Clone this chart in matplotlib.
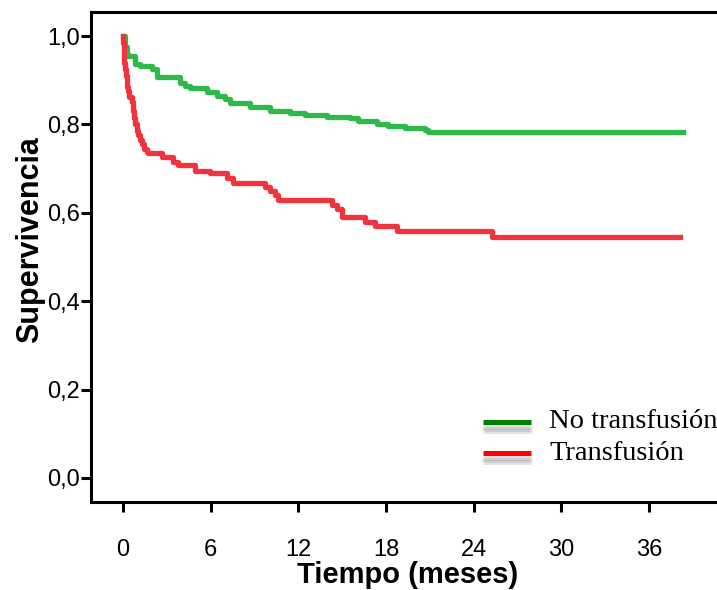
import matplotlib
matplotlib.use("Agg")
import matplotlib.pyplot as plt
import matplotlib.patheffects as pe
from matplotlib.lines import Line2D

# Kaplan-Meier estimates (time in months, survival)
t_no = [0, 0.14, 0.27, 0.34, 0.82, 1.16, 1.98, 2.33, 3.9, 4.24, 4.59, 5.75,
        6.43, 6.98, 7.32, 8.69, 10.06, 11.43, 12.46, 13.96, 15.54, 16.08,
        17.39, 18.14, 19.3, 20.67, 20.88, 38.33]
s_no = [1.0, 0.975, 0.96, 0.955, 0.937, 0.932, 0.925, 0.907, 0.893, 0.887,
        0.882, 0.873, 0.864, 0.857, 0.848, 0.840, 0.830, 0.826, 0.821, 0.817,
        0.814, 0.808, 0.801, 0.796, 0.792, 0.787, 0.783, 0.783]

t_tr = [0, 0.02, 0.04, 0.07, 0.10, 0.14, 0.21, 0.24, 0.27, 0.34, 0.41, 0.62,
        0.68, 0.75, 0.82, 0.96, 1.03, 1.16, 1.30, 1.44, 1.64, 1.71, 2.67,
        3.42, 3.76, 4.93, 5.95, 7.12, 7.53, 9.72, 10.06, 10.40, 10.61, 14.31,
        14.65, 14.99, 16.56, 17.25, 18.75, 25.26, 38.12]
s_tr = [1.0, 0.985, 0.97, 0.955, 0.94, 0.925, 0.91, 0.895, 0.885, 0.875,
        0.862, 0.85, 0.83, 0.815, 0.80, 0.785, 0.775, 0.765, 0.755, 0.745,
        0.738, 0.735, 0.726, 0.715, 0.708, 0.695, 0.69, 0.679, 0.667, 0.658,
        0.65, 0.64, 0.629, 0.618, 0.609, 0.59, 0.579, 0.57, 0.559, 0.545,
        0.545]

groups = ["No transfusión", "Transfusión"]
x_ticks = [0, 6, 12, 18, 24, 30, 36]
y_ticks = [0.0, 0.2, 0.4, 0.6, 0.8, 1.0]
y_ticklabels = ["0,0", "0,2", "0,4", "0,6", "0,8", "1,0"]

plt.rcParams["font.family"] = ["Liberation Sans", "DejaVu Sans"]

W, H = 717, 590
fig = plt.figure(figsize=(W / 100, H / 100), dpi=100)
ax = fig.add_axes([91 / W, 88 / H, 629 / W, 490 / H])

ax.step(t_no, s_no, where="post", color="#2fb94b", lw=3.8)
ax.step(t_tr, s_tr, where="post", color="#f0333d", lw=3.8)

ax.set_xlim(-2.19, 40.86)
ax.set_ylim(-0.0543, 1.0543)
ax.set_xticks(x_ticks)
ax.set_yticks(y_ticks)
ax.set_yticklabels(y_ticklabels)

for side in ["left", "bottom", "top"]:
    ax.spines[side].set_linewidth(2.2)
ax.spines["right"].set_visible(False)
ax.tick_params(axis="both", direction="out", length=7.5, width=2.2,
               labelsize=17)
ax.tick_params(axis="y", pad=0.5)
ax.tick_params(axis="x", pad=19)

ax.set_xlabel("Tiempo (meses)", fontsize=21, fontweight="bold", va="center")
ax.xaxis.set_label_coords(0.504, -0.149)
ax.set_ylabel("Supervivencia", fontsize=22, fontweight="bold", va="center")
ax.yaxis.set_label_coords(-0.097, 0.536)

# legend drawn by hand; stacked faint shadows give a soft drop shadow
legend_colors = ["#008000", "#ff0000"]
legend_y = [1 - 422 / H, 1 - 453 / H]
shadow = [pe.SimpleLineShadow(offset=(dx, dy), shadow_color="#909090",
                              alpha=0.13, rho=1.0)
          for dy in (-3.5, -5, -6.5) for dx in (-0.8, 0.8)]
for name, col, yy in zip(groups, legend_colors, legend_y):
    ln = Line2D([483 / W, 531 / W], [yy, yy], transform=fig.transFigure,
                color=col, lw=3.6, solid_capstyle="butt")
    ln.set_path_effects(shadow + [pe.Normal()])
    fig.add_artist(ln)
    fig.text(549 / W, yy, name, fontsize=20.5, family="Liberation Serif",
             va="center", ha="left")

fig.savefig("out.png", dpi=100)
